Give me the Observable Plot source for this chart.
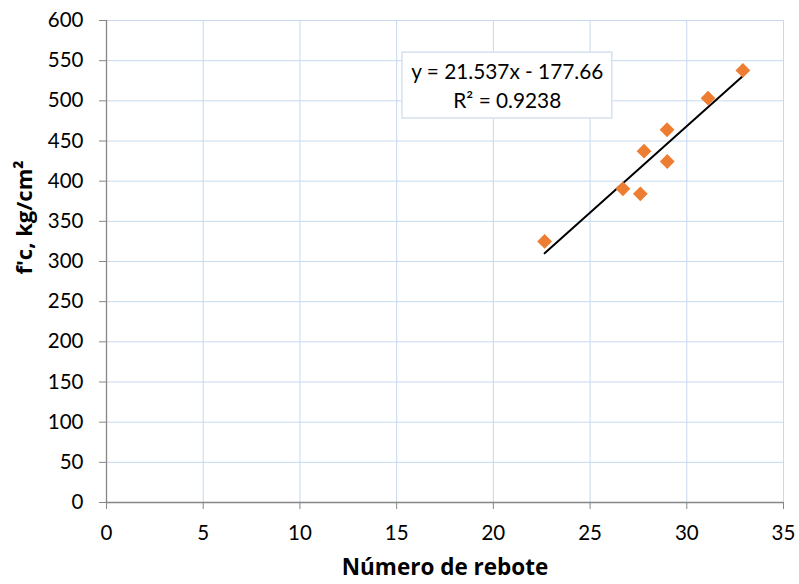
<!DOCTYPE html>
<html>
<head>
<meta charset="utf-8">
<script src="https://cdn.jsdelivr.net/npm/d3@7"></script>
<script src="https://cdn.jsdelivr.net/npm/@observablehq/plot@0.6"></script>
<style>
  html, body { margin: 0; padding: 0; background: #fff; }
  #chart { width: 799px; height: 584px; }
</style>
</head>
<body>
<div id="chart"></div>
<script>
const rebote = [22.65, 26.70, 27.60, 27.79, 28.98, 28.99, 31.10, 32.90];
const fc = [325, 390.5, 384.3, 437.3, 464, 424.5, 503.3, 537.8];
const slope = 21.537;
const intercept = -177.66;
const eqLabel = "y = 21.537x - 177.66";
const r2Label = "R² = 0.9238";
const xTicks = [0, 5, 10, 15, 20, 25, 30, 35];
const yTicks = [0, 50, 100, 150, 200, 250, 300, 350, 400, 450, 500, 550, 600];
// annotation box (data units)
const boxX = [15.3, 26.15];
const boxY = [478, 560];
const labelX = 20.72;
const labelY = [535.5, 499.5];

const points = rebote.map((x, i) => ({x, y: fc[i]}));
const xMin = d3.min(rebote), xMax = d3.max(rebote);
const trend = [xMin, xMax].map(x => ({x, y: slope * x + intercept}));

const font = "Lato, 'Open Sans', sans-serif";
const titleFont = "'Open Sans', Lato, sans-serif";
const grid = "#c6d9f0";
const axisCol = "#868686";

const plot = Plot.plot({
  width: 799,
  height: 584,
  marginLeft: 106,
  marginRight: 16,
  marginTop: 20,
  marginBottom: 82,
  style: {fontFamily: font, fontSize: "20.5px", color: "#000", background: "#fff"},
  x: {domain: [0, 35]},
  y: {domain: [0, 600]},
  marks: [
    Plot.gridX(xTicks, {stroke: grid, strokeOpacity: 1, strokeWidth: 1}),
    Plot.gridY(yTicks, {stroke: grid, strokeOpacity: 1, strokeWidth: 1}),
    Plot.ruleX([0], {stroke: axisCol, strokeWidth: 1.3}),
    Plot.ruleY([0], {stroke: axisCol, strokeWidth: 1.3}),
    Plot.axisX(xTicks, {tickSize: 7, tickPadding: 16, stroke: axisCol, fill: "#000", fontSize: 20.5, label: null}),
    Plot.axisY(yTicks, {tickSize: 7, tickPadding: 16, stroke: axisCol, fill: "#000", fontSize: 20.5, label: null}),
    Plot.line(trend, {x: "x", y: "y", stroke: "#000", strokeWidth: 2}),
    Plot.dot(points, {x: "x", y: "y", symbol: "square", rotate: 45, r: 5.9, fill: "#ED7D31", stroke: "none"}),
    Plot.rect([0], {x1: boxX[0], x2: boxX[1], y1: boxY[0], y2: boxY[1], fill: "#fff", stroke: "#d6e1ee", strokeWidth: 1.5}),
    Plot.text([eqLabel, r2Label], {x: labelX, y: (d, i) => labelY[i], text: d => d, fontSize: 20.8, fill: "#000", textAnchor: "middle"}),
    Plot.text(["Número de rebote"], {frameAnchor: "bottom", lineAnchor: "middle", dy: 65, fontWeight: "bold", fontSize: 22.5, fontFamily: titleFont}),
    Plot.text(["f'c, kg/cm²"], {frameAnchor: "left", dx: -82, dy: 13, rotate: -90, fontWeight: "bold", fontSize: 22, fontFamily: titleFont})
  ]
});
document.getElementById("chart").appendChild(plot);
</script>
</body>
</html>
